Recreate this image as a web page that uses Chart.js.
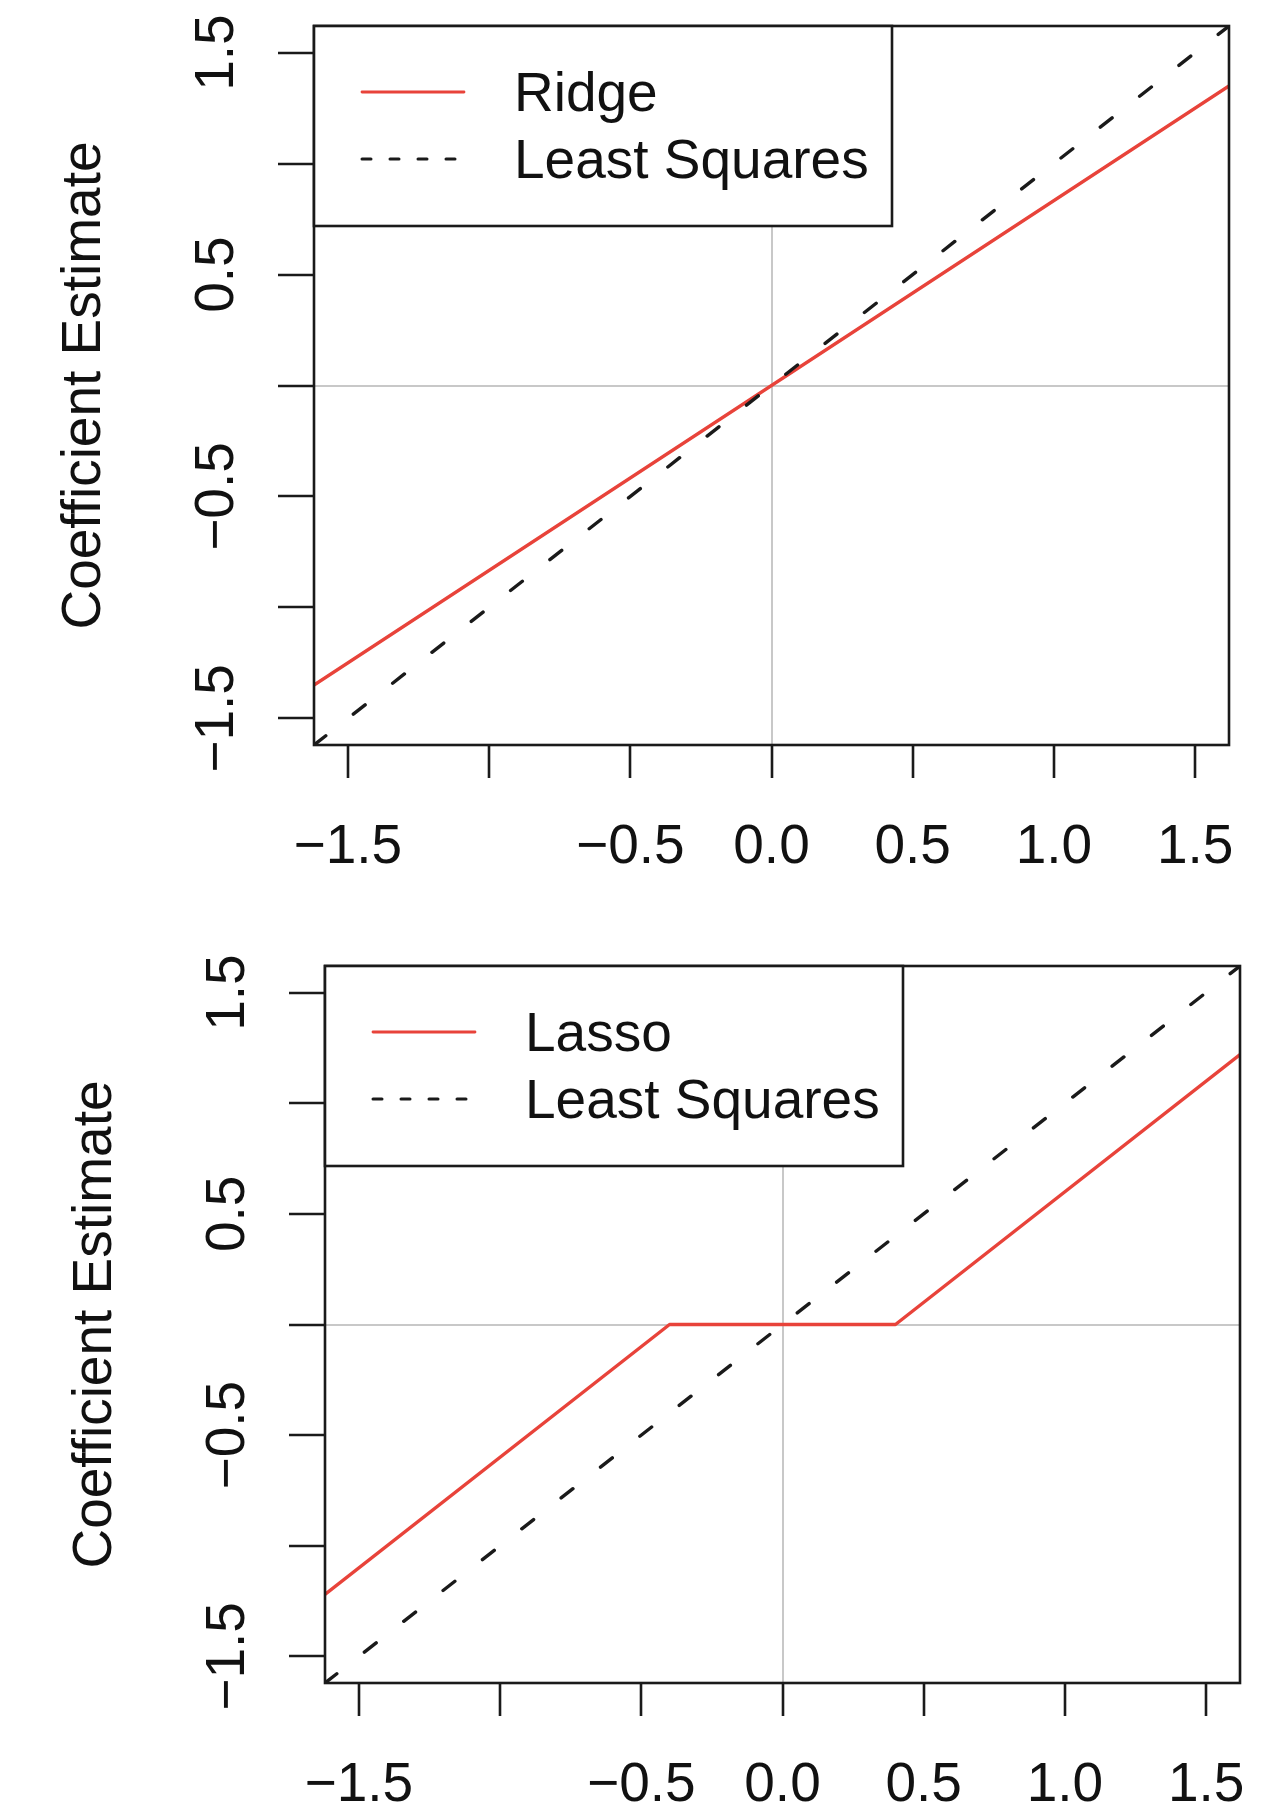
<!DOCTYPE html>
<html><head><meta charset="utf-8">
<script src="https://cdn.jsdelivr.net/npm/chart.js@4/dist/chart.umd.min.js"></script>
<style>
html,body{margin:0;padding:0;background:#fff;}
body{width:1288px;height:1810px;position:relative;overflow:hidden;}
canvas{position:absolute;left:0;}
</style></head><body>
<canvas id="c1" width="1288" height="905" style="top:0px"></canvas>
<canvas id="c2" width="1288" height="905" style="top:905px"></canvas>
<script>
// ---- data ----
const xTicks = [-1.5, -1, -0.5, 0, 0.5, 1, 1.5];
const xTickLabels = ['\u22121.5', '', '\u22120.5', '0.0', '0.5', '1.0', '1.5'];
const yTicks = [-1.5, -1, -0.5, 0, 0.5, 1, 1.5];
const yTickLabels = ['\u22121.5', '', '\u22120.5', '', '0.5', '', '1.5'];
const axisMin = -1.62, axisMax = 1.62;
const yTitle = 'Coefficient Estimate';

const lsX = [-1.62, 1.62];
const lsY = [-1.62, 1.62];
const ridgeX = [-1.62, 1.62];
const ridgeY = [-1.35, 1.35];
const lassoX = [-1.62, -0.4, 0.4, 1.62];
const lassoY = [-1.22, 0, 0, 1.22];

// ---- styles ----
const RED = '#e8433a';
const FONT = "'Liberation Sans', Arial, Helvetica, sans-serif";
const FSIZE = 55;

function pts(xs, ys) { return xs.map((x, i) => ({x: x, y: ys[i]})); }

function makeChart(id, frame, fitName, fitX, fitY) {
  const canvas = document.getElementById(id);
  const W = canvas.width, H = canvas.height;
  const series = [
    {label: fitName, data: pts(fitX, fitY), borderColor: RED, borderWidth: 3.4, borderDash: [], order: 1, legendDash: [], legendWidth: 2.8},
    {label: 'Least Squares', data: pts(lsX, lsY), borderColor: '#1a1a1a', borderWidth: 3.4, borderDash: [15, 35], order: 0, legendDash: [9, 19], legendWidth: 3}
  ];
  const overlay = {
    id: 'overlay',
    afterDraw(chart) {
      const ctx = chart.ctx, a = chart.chartArea;
      const sx = chart.scales.x, sy = chart.scales.y;
      ctx.save();
      // frame
      ctx.strokeStyle = '#1a1a1a';
      ctx.lineWidth = 2.6;
      ctx.strokeRect(a.left, a.top, a.right - a.left, a.bottom - a.top);
      // x tick labels
      ctx.fillStyle = '#111';
      ctx.font = FSIZE + 'px ' + FONT;
      ctx.textAlign = 'center';
      ctx.textBaseline = 'alphabetic';
      xTicks.forEach((v, i) => {
        if (xTickLabels[i]) ctx.fillText(xTickLabels[i], sx.getPixelForValue(v), a.bottom + 118);
      });
      // y tick labels (rotated)
      yTicks.forEach((v, i) => {
        if (!yTickLabels[i]) return;
        ctx.save();
        ctx.translate(a.left - 81, sy.getPixelForValue(v));
        ctx.rotate(-Math.PI / 2);
        ctx.fillText(yTickLabels[i], 0, 0);
        ctx.restore();
      });
      // y title
      ctx.save();
      ctx.translate(a.left - 214, (a.top + a.bottom) / 2);
      ctx.rotate(-Math.PI / 2);
      ctx.fillText(yTitle, 0, 0);
      ctx.restore();
      // legend
      const lw = 578, lh = 200;
      ctx.fillStyle = '#fff';
      ctx.fillRect(a.left, a.top, lw, lh);
      ctx.strokeStyle = '#1a1a1a';
      ctx.lineWidth = 2.6;
      ctx.strokeRect(a.left, a.top, lw, lh);
      series.forEach((s, i) => {
        const yy = a.top + 66 + i * 67;
        ctx.beginPath();
        ctx.strokeStyle = s.borderColor;
        ctx.lineWidth = s.legendWidth;
        ctx.lineCap = 'round';
        ctx.setLineDash(s.legendDash);
        ctx.moveTo(a.left + 48, yy);
        ctx.lineTo(a.left + 150, yy);
        ctx.stroke();
        ctx.setLineDash([]);
        ctx.fillStyle = '#111';
        ctx.textAlign = 'left';
        ctx.fillText(s.label, a.left + 200, yy + 19);
      });
      ctx.restore();
    }
  };
  const gridCfg = (len) => ({
    display: true,
    drawOnChartArea: true,
    drawTicks: true,
    tickLength: len,
    color: (c) => (c.tick && c.tick.value === 0) ? '#c8c8c8' : 'rgba(0,0,0,0)',
    lineWidth: (c) => (c.tick && c.tick.value === 0) ? 2 : 0,
    tickColor: '#1a1a1a',
    tickWidth: 2.6
  });
  return new Chart(canvas, {
    type: 'scatter',
    data: {
      datasets: series.map(s => ({
        label: s.label, data: s.data, showLine: true,
        borderColor: s.borderColor, backgroundColor: s.borderColor,
        borderWidth: s.borderWidth, borderDash: s.borderDash,
        borderCapStyle: 'round', borderJoinStyle: 'round',
        pointRadius: 0, pointHoverRadius: 0, tension: 0, order: s.order
      }))
    },
    options: {
      responsive: false,
      animation: false,
      devicePixelRatio: 1,
      events: [],
      layout: {padding: {left: 0, top: frame.top, right: W - frame.right, bottom: 0}},
      plugins: {legend: {display: false}, tooltip: {enabled: false}},
      scales: {
        x: {
          type: 'linear', position: 'bottom', min: axisMin, max: axisMax,
          afterBuildTicks: (s) => { s.ticks = xTicks.map(v => ({value: v})); },
          afterFit: (s) => { s.height = H - frame.bottom; },
          ticks: {display: false},
          grid: gridCfg(33),
          border: {display: false}
        },
        y: {
          type: 'linear', position: 'left', min: axisMin, max: axisMax,
          afterBuildTicks: (s) => { s.ticks = yTicks.map(v => ({value: v})); },
          afterFit: (s) => { s.width = frame.left; },
          ticks: {display: false},
          grid: gridCfg(36),
          border: {display: false}
        }
      }
    },
    plugins: [overlay]
  });
}

makeChart('c1', {left: 314, top: 26, right: 1229, bottom: 745}, 'Ridge', ridgeX, ridgeY);
makeChart('c2', {left: 325, top: 61, right: 1240, bottom: 778}, 'Lasso', lassoX, lassoY);
</script>
</body></html>
